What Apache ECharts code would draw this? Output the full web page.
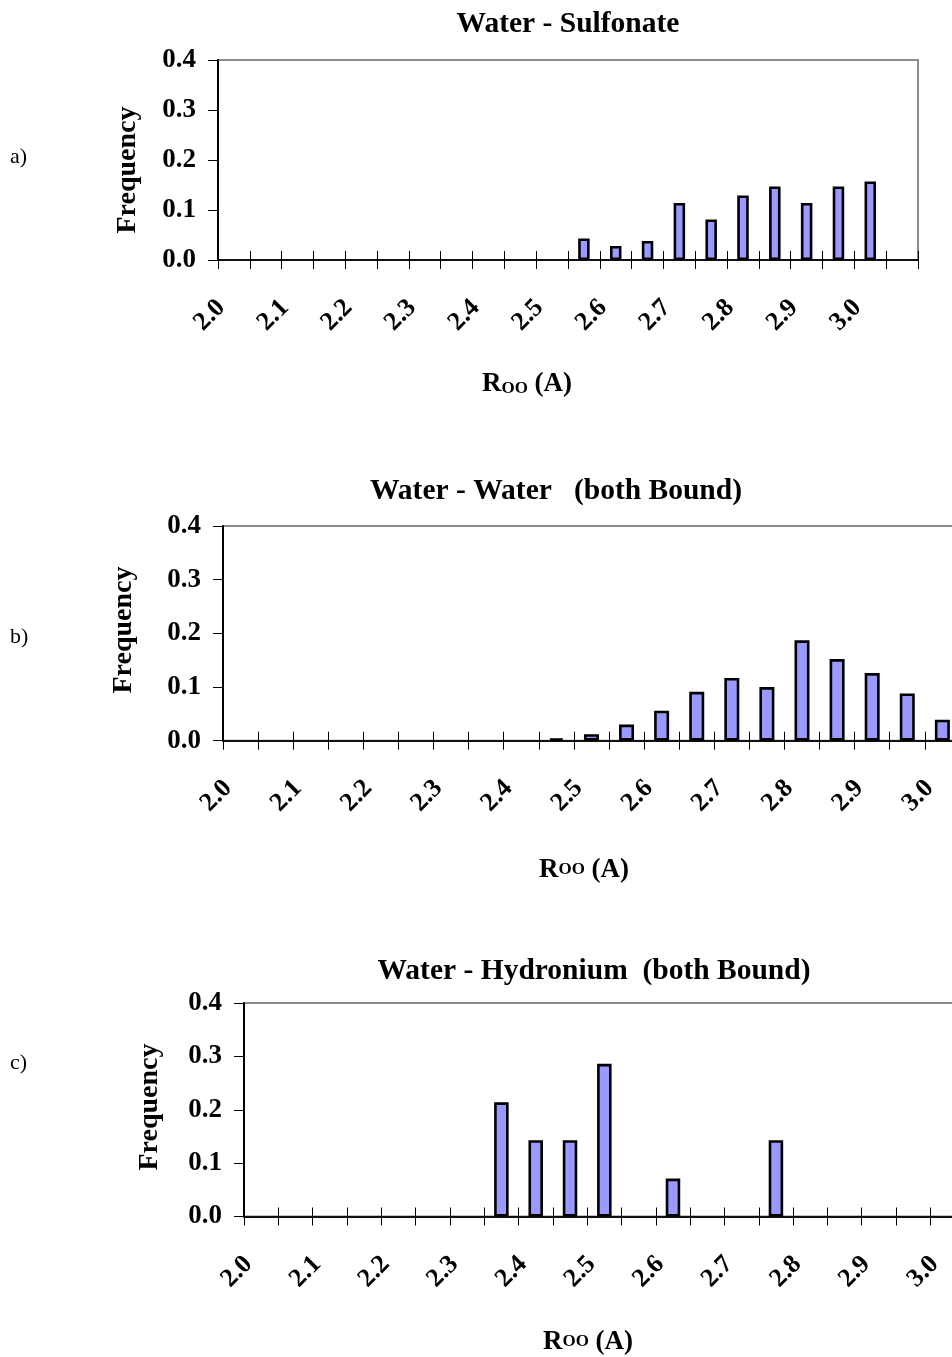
<!DOCTYPE html>
<html>
<head>
<meta charset="utf-8">
<script src="https://cdn.jsdelivr.net/npm/echarts@6/dist/echarts.min.js"></script>
<style>
  html, body { margin: 0; padding: 0; background: #ffffff; }
  #chart { width: 952px; height: 1357px; }
</style>
</head>
<body>
<div id="chart"></div>
<script>
// O–O distance bins (Å), 0.05 wide
const bins = ['2.0', '2.05', '2.1', '2.15', '2.2', '2.25', '2.3', '2.35', '2.4', '2.45', '2.5',
              '2.55', '2.6', '2.65', '2.7', '2.75', '2.8', '2.85', '2.9', '2.95', '3.0', '3.05'];

// a) water – sulfonate
const sulfonateFreq = [0, 0, 0, 0, 0, 0, 0, 0, 0, 0, 0,
                       0.043, 0.028, 0.038, 0.114, 0.081, 0.129, 0.147, 0.114, 0.147, 0.157, 0];
// b) water – water, both bound
const waterWaterFreq = [0, 0, 0, 0, 0, 0, 0, 0, 0, 0.004, 0.012,
                        0.030, 0.056, 0.091, 0.117, 0.100, 0.187, 0.152, 0.126, 0.088, 0.039, 0];
// c) water – hydronium, both bound
const hydroniumFreq = [0, 0, 0, 0, 0, 0, 0, 0.214, 0.143, 0.143, 0.286,
                       0, 0.071, 0, 0, 0.143, 0, 0, 0, 0, 0, 0];

const panelTitles = ['Water - Sulfonate', 'Water - Water   (both Bound)', 'Water - Hydronium  (both Bound)'];
const panelLetters = ['a)', 'b)', 'c)'];
const yName = 'Frequency';

const SERIF = '"Liberation Serif", "Times New Roman", Times, serif';

// plot-area geometry of the three stacked charts (b and c run past the right edge)
const layout = [
  { left: 218, top: 60,   width: 700, height: 200,   barWidth: 11.5, titleX: 568, titleY: 24,
    yNameX: 128, yNameY: 170,  xNameX: 527, xNameY: 384,  letterY: 157,  subscript: true },
  { left: 223, top: 526,  width: 772, height: 214.7, barWidth: 15,   titleX: 556, titleY: 491,
    yNameX: 124, yNameY: 630,  xNameX: 584, xNameY: 870,  letterY: 637,  subscript: false },
  { left: 244, top: 1003, width: 755, height: 213.5, barWidth: 14.5, titleX: 594, titleY: 971,
    yNameX: 150, yNameY: 1107, xNameX: 588, xNameY: 1342, letterY: 1063, subscript: false }
];

const datasets = [sulfonateFreq, waterWaterFreq, hydroniumFreq];

const grids = [], xAxes = [], yAxes = [], series = [], graphics = [];

layout.forEach((p, i) => {
  grids.push({
    left: p.left, top: p.top, width: p.width, height: p.height,
    show: true, borderColor: '#8a8a8a', borderWidth: 2, backgroundColor: 'transparent',
    containLabel: false, outerBoundsMode: 'none'
  });

  // main category axis: line, outer ticks, rotated labels
  xAxes.push({
    type: 'category', gridIndex: i, data: bins, position: 'bottom', boundaryGap: true,
    axisLine: { show: true, lineStyle: { color: '#111', width: 2 } },
    axisTick: { show: true, interval: 0, length: 9, lineStyle: { color: '#000', width: 1 } },
    axisLabel: {
      interval: 1, rotate: 45, margin: 31, padding: [0, 18, 0, 0], color: '#000',
      fontFamily: SERIF, fontWeight: 'bold', fontSize: 26
    },
    splitLine: { show: false }
  });
  // companion axis providing the inner half of the crossing ticks
  xAxes.push({
    type: 'category', gridIndex: i, data: bins, position: 'bottom', boundaryGap: true,
    axisLine: { show: false },
    axisTick: { show: true, inside: true, interval: 0, length: 9, lineStyle: { color: '#000', width: 1 } },
    axisLabel: { show: false },
    splitLine: { show: false }
  });

  yAxes.push({
    type: 'value', gridIndex: i, min: 0, max: 0.4, interval: 0.1,
    axisLine: { show: true, lineStyle: { color: '#000', width: 2 } },
    axisTick: { show: true, length: 10, lineStyle: { color: '#000', width: 1 } },
    axisLabel: {
      margin: 22, color: '#000', fontFamily: SERIF, fontWeight: 'bold', fontSize: 27,
      formatter: v => v.toFixed(1)
    },
    splitLine: { show: false }
  });

  series.push({
    type: 'bar', xAxisIndex: i * 2, yAxisIndex: i,
    data: datasets[i].map(v => (v === 0 ? null : v)),
    barWidth: p.barWidth,
    itemStyle: { color: '#9999ff', borderColor: '#000', borderWidth: 2.6 },
    emphasis: { disabled: true },
    animation: false
  });

  // chart title
  graphics.push({
    type: 'text', x: p.titleX, y: p.titleY,
    style: {
      text: panelTitles[i], fill: '#000', align: 'center', verticalAlign: 'middle',
      font: 'bold 29.5px ' + SERIF
    }
  });
  // y-axis name
  graphics.push({
    type: 'text', x: p.yNameX, y: p.yNameY, rotation: Math.PI / 2,
    style: {
      text: yName, fill: '#000', align: 'center', verticalAlign: 'middle',
      font: 'bold 28px ' + SERIF
    }
  });
  // x-axis name: R with OO index
  graphics.push({
    type: 'text', x: p.xNameX, y: p.xNameY,
    style: {
      text: '{r|R}{s|OO}{r| (A)}', fill: '#000', align: 'center', verticalAlign: 'middle',
      rich: {
        r: { font: 'bold 27px ' + SERIF, fill: '#000', verticalAlign: 'bottom', height: 30 },
        s: { font: 'bold 17px ' + SERIF, fill: '#000', verticalAlign: 'bottom',
             height: 30, padding: p.subscript ? [0, 0, -5, 0] : [0, 0, 0, 0] }
      }
    }
  });
  // panel letter
  graphics.push({
    type: 'text', x: 10, y: p.letterY,
    style: {
      text: panelLetters[i], fill: '#000', align: 'left', verticalAlign: 'middle',
      font: '22px ' + SERIF
    }
  });
});

const chart = echarts.init(document.getElementById('chart'), null, { renderer: 'canvas' });
chart.setOption({
  animation: false,
  backgroundColor: '#ffffff',
  grid: grids,
  xAxis: xAxes,
  yAxis: yAxes,
  series: series,
  graphic: graphics
});
</script>
</body>
</html>
